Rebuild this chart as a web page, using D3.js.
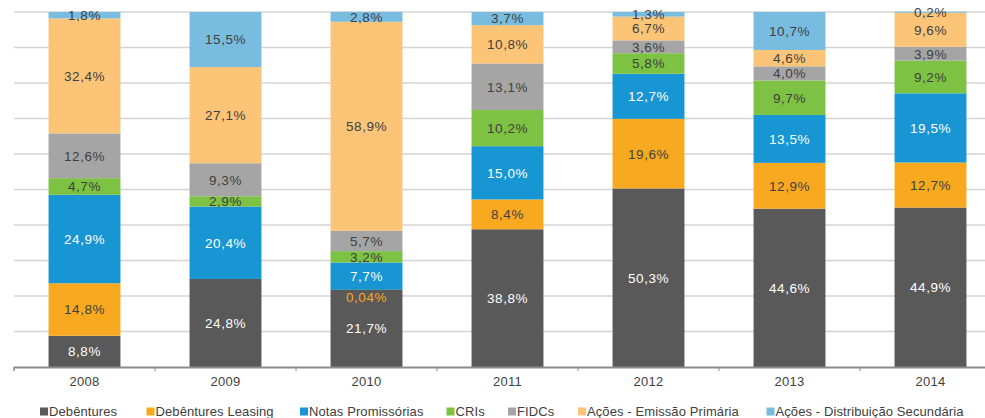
<!DOCTYPE html>
<html><head><meta charset="utf-8">
<script src="https://cdn.jsdelivr.net/npm/d3@7"></script>
<style>body{margin:0;background:#fff}svg text{font-family:"Liberation Sans",Arial,sans-serif}</style>
</head><body><svg id="c" width="985" height="418"></svg>
<script>
const years = ["2008","2009","2010","2011","2012","2013","2014"];
const seriesNames = ["Debêntures","Debêntures Leasing","Notas Promissórias","CRIs","FIDCs","Ações - Emissão Primária","Ações - Distribuição Secundária"];
const debentures = [8.8,24.8,21.7,38.8,50.3,44.6,44.9];
const leasing    = [14.8,0,0.04,8.4,19.6,12.9,12.7];
const notas      = [24.9,20.4,7.7,15.0,12.7,13.5,19.5];
const cris       = [4.7,2.9,3.2,10.2,5.8,9.7,9.2];
const fidcs      = [12.6,9.3,5.7,13.1,3.6,4.0,3.9];
const primaria   = [32.4,27.1,58.9,10.8,6.7,4.6,9.6];
const secundaria = [1.8,15.5,2.8,3.7,1.3,10.7,0.2];
const gridTicks  = [10,20,30,40,50,60,70,80,90,100];

const seriesValues = [debentures,leasing,notas,cris,fidcs,primaria,secundaria];
const colors = ["#595959","#F8A91F","#1796D3","#7DC243","#A5A5A5","#FCC477","#78BDE0"];
const labelColors = ["#ffffff","#404040","#ffffff","#404040","#404040","#404040","#404040"];
const FONT = "'Liberation Sans', Arial, sans-serif";
const legendX = [40,146.5,300,446.5,508,578,766.5];

const svg = d3.select("#c");
const x = d3.scaleBand().domain(years).range([14, 1001]).paddingInner(0.49).paddingOuter(0.245);
const y = d3.scaleLinear().domain([0,100]).range([367,12]);

// grid
svg.append("g").selectAll("line").data(gridTicks).join("line")
  .attr("x1",14).attr("x2",985).attr("y1",d=>y(d)).attr("y2",d=>y(d))
  .attr("stroke","#D4D4D4").attr("stroke-width",1.5);

// stack
const rows = years.map((yr,i)=>{const o={year:yr}; seriesNames.forEach((s,j)=>o[s]=seriesValues[j][i]); return o;});
const stack = d3.stack().keys(seriesNames)(rows);

const gBars = svg.append("g");
stack.forEach((layer,j)=>{
  gBars.append("g").selectAll("rect").data(layer.filter(d=>d[1]-d[0]>0)).join("rect")
    .attr("x",d=>x(d.data.year)).attr("width",x.bandwidth())
    .attr("y",d=>{const h=y(d[0])-y(d[1]); return h<1? y(d[0])-1 : y(d[1]);})
    .attr("height",d=>Math.max(1,y(d[0])-y(d[1])))
    .attr("fill",colors[j]);
});

// labels
const fmt = v => (v<0.1 ? v.toFixed(2) : v.toFixed(1)).replace(".",",")+"%";
stack.forEach((layer,j)=>{
  svg.append("g").selectAll("text").data(layer.filter(d=>d[1]-d[0]>0)).join("text")
    .attr("x",d=>x(d.data.year)+x.bandwidth()/2)
    .attr("y",d=>{const v=d[1]-d[0]; const m=y((d[0]+d[1])/2); return (j===1 && v<0.5)? m+7 : m;})
    .attr("dy","0.36em").attr("text-anchor","middle")
    .attr("font-family",FONT)
    .attr("font-size",13.5).attr("letter-spacing","0.5px")
    .attr("fill",d=> (j===1 && (d[1]-d[0])<0.5) ? "#F8A91F" : labelColors[j])
    .text(d=>fmt(d[1]-d[0]));
});

// axis
const axis = d3.axisBottom(x).tickSize(0).tickPadding(10);
const ga = svg.append("g").attr("transform","translate(0,367)").call(axis).attr("font-family",FONT);
ga.select(".domain").remove();
ga.selectAll("text").attr("font-size",13).attr("letter-spacing","0.3px").attr("fill","#404040").attr("font-family",FONT);
svg.append("line").attr("x1",14).attr("x2",985).attr("y1",367.5).attr("y2",367.5).attr("stroke","#8C8C8C").attr("stroke-width",2);
const bounds = years.map((yr,i)=>x(yr)-x.step()*x.paddingInner()/2).concat([x(years[0])-x.step()*x.paddingInner()/2]);
svg.append("g").selectAll("line").data(bounds).join("line")
  .attr("x1",d=>d).attr("x2",d=>d).attr("y1",367).attr("y2",371)
  .attr("stroke","#8C8C8C").attr("stroke-width",1);

// legend
const lg = svg.append("g");
seriesNames.forEach((s,j)=>{
  const lx = legendX[j];
  lg.append("rect").attr("x",lx).attr("y",407.5).attr("width",8).attr("height",8).attr("fill",colors[j]);
  lg.append("text").attr("x",lx+9).attr("y",411.5).attr("dy","0.36em")
    .attr("font-family",FONT)
    .attr("font-size",13).attr("letter-spacing","0.1px").attr("fill","#404040").text(s);
});
</script></body></html>
